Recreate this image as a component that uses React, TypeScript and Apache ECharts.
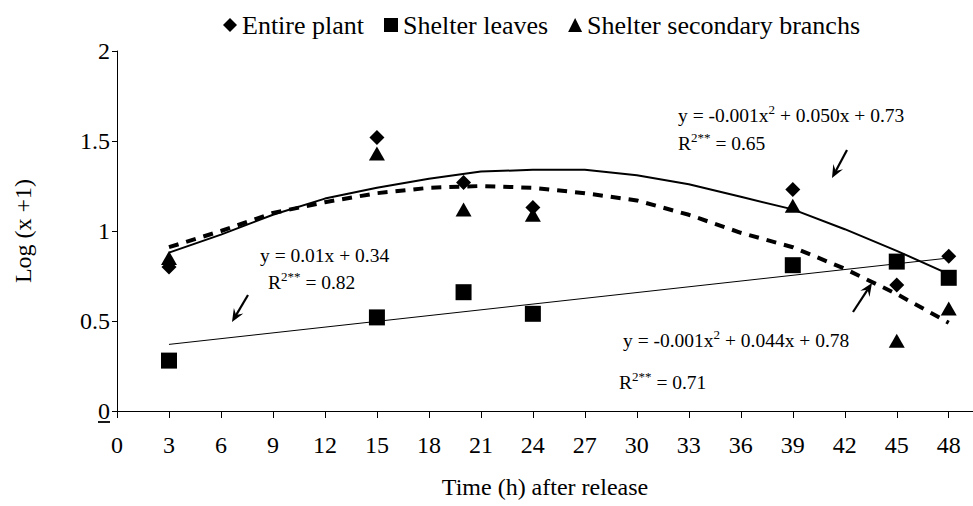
import React, { useEffect, useRef } from "react";
import * as echarts from "echarts";

// ---- data ----
const hours = [3, 15, 20, 24, 39, 45, 48];
const entirePlant = [0.8, 1.52, 1.27, 1.13, 1.23, 0.7, 0.86];
const shelterLeaves = [0.28, 0.52, 0.66, 0.54, 0.81, 0.83, 0.74];
const shelterBranches = [0.85, 1.43, 1.12, 1.09, 1.14, 0.39, 0.57];

const trendHours = [3, 6, 9, 12, 15, 18, 21, 24, 27, 30, 33, 36, 39, 42, 45, 48];
const entireTrend = [0.88, 0.98, 1.09, 1.18, 1.24, 1.29, 1.33, 1.34, 1.34, 1.31, 1.26, 1.19, 1.12, 1.01, 0.89, 0.76];
const branchTrend = [0.91, 1.0, 1.1, 1.16, 1.21, 1.24, 1.25, 1.24, 1.21, 1.17, 1.09, 0.99, 0.91, 0.79, 0.65, 0.49];
const leavesTrendHours = [3, 48];
const leavesTrend = [0.37, 0.85];

const xTicks = [0, 3, 6, 9, 12, 15, 18, 21, 24, 27, 30, 33, 36, 39, 42, 45, 48];
const seriesNames = ["Entire plant", "Shelter leaves", "Shelter secondary branchs"];

const FONT = '"Liberation Serif", "Times New Roman", serif';

const zip = (xs: number[], ys: number[]) => xs.map((x, i) => [x, ys[i]]);

function arrow(x1: number, y1: number, x2: number, y2: number) {
  const dx = x2 - x1;
  const dy = y2 - y1;
  const len = Math.sqrt(dx * dx + dy * dy);
  const ux = dx / len;
  const uy = dy / len;
  const nx = -uy;
  const ny = ux;
  const L = 13;
  const W = 5.5;
  const bx = x2 - L * ux;
  const by = y2 - L * uy;
  const notchX = x2 - 8 * ux;
  const notchY = y2 - 8 * uy;
  return [
    {
      type: "line",
      shape: { x1, y1, x2: notchX, y2: notchY },
      style: { stroke: "#000", lineWidth: 2.2 },
    },
    {
      type: "polygon",
      shape: {
        points: [
          [x2, y2],
          [bx + W * nx, by + W * ny],
          [notchX, notchY],
          [bx - W * nx, by - W * ny],
        ],
      },
      style: { fill: "#000" },
    },
  ];
}

function eqText(left: number, top: number, parts: string) {
  return {
    type: "text",
    left,
    top,
    style: {
      text: parts,
      font: `19.5px ${FONT}`,
      fill: "#000",
      rich: {
        n: { fontSize: 19.5, fontFamily: FONT, lineHeight: 22, verticalAlign: "bottom", color: "#000" },
        s: { fontSize: 13, fontFamily: FONT, lineHeight: 22, verticalAlign: "top", color: "#000" },
      },
    },
  };
}

export default function App() {
  const ref = useRef<HTMLDivElement>(null);
  useEffect(() => {
    if (!ref.current) return;
    const chart = echarts.init(ref.current, undefined, { renderer: "svg" });
    const markerStyle = { color: "#000", opacity: 1 };
    const option: any = {
      animation: false,
      backgroundColor: "#fff",
      textStyle: { fontFamily: FONT, color: "#000" },
      legend: {
        data: [
          { name: seriesNames[0], icon: "diamond", itemStyle: markerStyle },
          { name: seriesNames[1], icon: "rect", itemStyle: markerStyle },
          { name: seriesNames[2], icon: "triangle", itemStyle: markerStyle },
        ],
        left: 218,
        top: 7,
        itemWidth: 14,
        itemHeight: 14,
        itemGap: 20,
        textStyle: { fontFamily: FONT, fontSize: 26, color: "#000" },
        selectedMode: false,
      },
      grid: { left: 117, right: 0, top: 51, bottom: 95, containLabel: false },
      xAxis: {
        type: "value",
        min: 0,
        max: 49.4,
        interval: 3,
        name: "Time (h) after release",
        nameLocation: "middle",
        nameGap: 64,
        nameTextStyle: { fontFamily: FONT, fontSize: 24, color: "#000" },
        axisLine: { onZero: false, lineStyle: { color: "#000", width: 1 } },
        axisTick: { show: true, length: 7, customValues: xTicks, lineStyle: { color: "#000" } },
        axisLabel: {
          customValues: xTicks,
          fontFamily: FONT,
          fontSize: 24,
          color: "#000",
          margin: 22,
        },
        splitLine: { show: false },
      },
      yAxis: {
        type: "value",
        min: 0,
        max: 2,
        interval: 0.5,
        name: "Log (x +1)",
        nameLocation: "middle",
        nameGap: 82,
        nameRotate: 90,
        nameTextStyle: { fontFamily: FONT, fontSize: 24, color: "#000" },
        axisLine: { show: true, lineStyle: { color: "#000", width: 1 } },
        axisTick: { show: true, length: 5, lineStyle: { color: "#000" } },
        axisLabel: { fontFamily: FONT, fontSize: 24, color: "#000", margin: 7 },
        splitLine: { show: false },
      },
      series: [
        {
          name: "entire-trend",
          type: "line",
          data: zip(trendHours, entireTrend),
          showSymbol: false,
          symbol: "none",
          lineStyle: { color: "#000", width: 2 },
          z: 1,
          silent: true,
        },
        {
          name: "branch-trend",
          type: "line",
          data: zip(trendHours, branchTrend),
          showSymbol: false,
          symbol: "none",
          lineStyle: { color: "#000", width: 4, type: [10, 8] },
          z: 1,
          silent: true,
        },
        {
          name: "leaves-trend",
          type: "line",
          data: zip(leavesTrendHours, leavesTrend),
          showSymbol: false,
          symbol: "none",
          lineStyle: { color: "#000", width: 1 },
          z: 1,
          silent: true,
        },
        {
          name: seriesNames[0],
          type: "scatter",
          symbol: "diamond",
          symbolSize: 15,
          itemStyle: markerStyle,
          data: zip(hours, entirePlant),
          z: 3,
        },
        {
          name: seriesNames[1],
          type: "scatter",
          symbol: "rect",
          symbolSize: 16,
          itemStyle: markerStyle,
          data: zip(hours, shelterLeaves),
          z: 3,
        },
        {
          name: seriesNames[2],
          type: "scatter",
          symbol: "triangle",
          symbolSize: [16, 14],
          itemStyle: markerStyle,
          data: zip(hours, shelterBranches),
          z: 3,
        },
      ],
      graphic: [
        eqText(678, 103, "{n|y = -0.001x}{s|2}{n| + 0.050x + 0.73}"),
        eqText(678, 131, "{n|R}{s|2**}{n| = 0.65}"),
        eqText(260, 245, "{n|y = 0.01x + 0.34}"),
        eqText(268, 270, "{n|R}{s|2**}{n| = 0.82}"),
        eqText(623, 328, "{n|y = -0.001x}{s|2}{n| + 0.044x + 0.78}"),
        eqText(619, 370, "{n|R}{s|2**}{n| = 0.71}"),
        ...arrow(847, 150, 832, 178),
        ...arrow(248, 295, 232, 322),
        ...arrow(853, 312, 872, 283),
        {
          type: "line",
          shape: { x1: 98, y1: 422, x2: 110, y2: 422 },
          style: { stroke: "#000", lineWidth: 1.8 },
        },
      ],
    };
    chart.setOption(option);
    return () => chart.dispose();
  }, []);
  return (
    <div
      ref={ref}
      style={{ position: "absolute", left: 0, top: 0, width: 973, height: 506, background: "#fff" }}
    />
  );
}
